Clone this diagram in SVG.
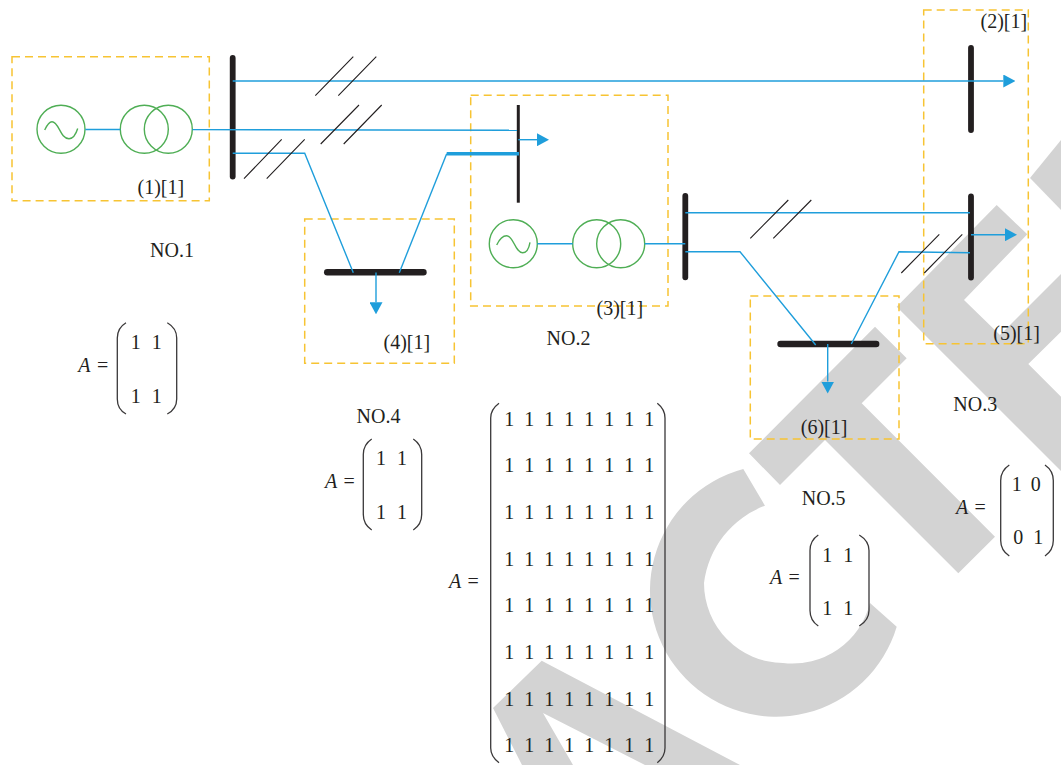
<svg xmlns="http://www.w3.org/2000/svg" width="1061" height="765" viewBox="0 0 1061 765">
<style>
text{font-family:"Liberation Serif","Times New Roman",serif;font-size:20px;fill:#231f20}
.wm{fill:#d3d3d3}
.box{fill:none;stroke:#f7c433;stroke-width:1.5;stroke-dasharray:8 5}
.eq{fill:none;stroke:#4fae55;stroke-width:1.4}
.bus{stroke:#231f20;stroke-width:5.8;stroke-linecap:round;fill:none}
.ln{fill:none;stroke:#1f9edb;stroke-width:1.4}
.ar{fill:none;stroke:#1f9edb;stroke-width:1.4;marker-end:url(#tri)}
.sl{stroke:#231f20;stroke-width:1.1;fill:none}
.par{fill:none;stroke:#3a3839;stroke-width:1.3}
.m2{word-spacing:6px}
.m8{word-spacing:5px}
.i{font-style:italic}
</style>
<defs>
<marker id="tri" markerUnits="userSpaceOnUse" markerWidth="12" markerHeight="13" viewBox="0 0 12 13" refX="0" refY="6.5" orient="auto"><path d="M0,0L12,6.5L0,13Z" fill="#1f9edb"/></marker>
</defs>
<g id="watermark">
<path class="wm" d="M541.7,660.7L493,708L522,765H573L543,713L645,765H740Z"/>
<path class="wm" d="M743.3,469A126,126 0 1 0 896.7,626.7L870,603A80,80 0 0 1 783,663A80,80 0 0 1 704,583A95,95 0 0 1 765,505.7Z"/>
<path class="wm" d="M875,326.7L906.7,358.3L861.7,403.3L995,536.7L958.3,573.3L825,440L780,485L749,453.3Z"/>
<path class="wm" d="M996.7,205L1027.3,234.3L964,300L1000,335L1061,274V331.7L1028.3,364L1061,396.7V471L896.7,306.7Z"/>
<path class="wm" d="M1030,178L1061,140V210Z"/>
</g>
<g id="node-1">
<rect class="box" x="12" y="56.7" width="197.3" height="144"/>
<circle class="eq" cx="61" cy="129.3" r="24"/>
<path class="eq" d="M44.7,130C47,125 49,121.7 52,121.7C59,121.7 60,138.7 69,138.7C73,138.7 76,134 77.7,128.5"/>
<circle class="eq" cx="144.3" cy="129.3" r="24"/>
<circle class="eq" cx="168.3" cy="129.3" r="24"/>
<line class="bus" x1="232.7" y1="58" x2="232.7" y2="176.5"/>
<text x="137.5" y="193.7">(1)[1]</text>
<text x="150" y="256.5">NO.1</text>
<text class="i" x="78.3" y="372">A</text><text x="97" y="372">=</text>
<path class="par" d="M126,322.7C120.5,326 117.3,331 117.3,338V399C117.3,406 120.5,411 126,414"/>
<path class="par" d="M167.3,322.7C173,326 176.7,331 176.7,338V399C176.7,406 173,411 167.3,414"/>
<text class="m2" x="130.7" y="349.3">1 1</text>
<text class="m2" x="130.7" y="403.3">1 1</text>
</g>
<g id="node-2">
<rect class="box" x="923.7" y="10" width="104.6" height="333.7"/>
<line class="bus" x1="971" y1="48" x2="971" y2="130"/>
<text x="980.5" y="28">(2)[1]</text>
</g>
<g id="node-3">
<rect class="box" x="470.7" y="95.3" width="197.3" height="210.7"/>
<line x1="518.3" y1="105" x2="518.3" y2="202.7" stroke="#231f20" stroke-width="3"/>
<circle class="eq" cx="513.3" cy="243.7" r="24"/>
<path class="eq" d="M496.7,245C499,240 502.5,235.7 506.7,235.7C513.5,235.7 515,252.7 522.7,252.7C526.5,252.7 529,248 530,242.3"/>
<circle class="eq" cx="596.7" cy="243.7" r="24"/>
<circle class="eq" cx="620.7" cy="243.7" r="24"/>
<line class="bus" x1="685.3" y1="196" x2="685.3" y2="277.3"/>
<text x="596.5" y="314.5">(3)[1]</text>
<text x="546.5" y="345">NO.2</text>
<text class="i" x="449" y="588.3">A</text><text x="467.5" y="588.3">=</text>
<path class="par" d="M499,403.3C494,407 490.7,411 490.7,418V748C490.7,755 494,759 499,762.7"/>
<path class="par" d="M657.3,403.3C662,407 665,411 665,418V748C665,755 662,759 657.3,762.7"/>
<text class="m8" x="504.3" y="425.7">1 1 1 1 1 1 1 1</text>
<text class="m8" x="504.3" y="472.3">1 1 1 1 1 1 1 1</text>
<text class="m8" x="504.3" y="519">1 1 1 1 1 1 1 1</text>
<text class="m8" x="504.3" y="565.7">1 1 1 1 1 1 1 1</text>
<text class="m8" x="504.3" y="612.3">1 1 1 1 1 1 1 1</text>
<text class="m8" x="504.3" y="659">1 1 1 1 1 1 1 1</text>
<text class="m8" x="504.3" y="705.7">1 1 1 1 1 1 1 1</text>
<text class="m8" x="504.3" y="752.3">1 1 1 1 1 1 1 1</text>
</g>
<g id="node-4">
<rect class="box" x="304.7" y="219" width="149.6" height="144.3"/>
<line x1="327.2" y1="272.3" x2="423.5" y2="272.3" stroke="#231f20" stroke-width="6.4" stroke-linecap="round"/>
<text x="383.5" y="348.5">(4)[1]</text>
<text x="356.5" y="423.3">NO.4</text>
<text class="i" x="325" y="487.7">A</text><text x="343.5" y="487.7">=</text>
<path class="par" d="M371.7,439C366.5,442.5 363.3,447.5 363.3,454.5V514.5C363.3,521.5 366.5,526.5 371.7,530"/>
<path class="par" d="M413.3,439C418.5,442.5 421.7,447.5 421.7,454.5V514.5C421.7,521.5 418.5,526.5 413.3,530"/>
<text class="m2" x="376" y="465">1 1</text>
<text class="m2" x="376" y="519">1 1</text>
</g>
<g id="node-5">
<line class="bus" x1="971" y1="196.5" x2="971" y2="277.5"/>
<text x="993.3" y="339.5">(5)[1]</text>
<text x="953.3" y="411">NO.3</text>
<text class="i" x="956" y="514">A</text><text x="974.5" y="514">=</text>
<path class="par" d="M1009.3,465C1004,468.5 1000.7,473.5 1000.7,480.5V540.5C1000.7,547.5 1004,552.5 1009.3,556"/>
<path class="par" d="M1045,465C1050,468.5 1053.3,473.5 1053.3,480.5V540.5C1053.3,547.5 1050,552.5 1045,556"/>
<text x="1011.7" y="491">1</text><text x="1030.7" y="491">0</text>
<text x="1013.3" y="544.3">0</text><text x="1033.3" y="544.3">1</text>
</g>
<g id="node-6">
<rect class="box" x="750.3" y="296" width="148.7" height="143"/>
<line x1="780.5" y1="344" x2="876.2" y2="344" stroke="#231f20" stroke-width="6.4" stroke-linecap="round"/>
<text x="800.8" y="434">(6)[1]</text>
<text x="801.7" y="505">NO.5</text>
<text class="i" x="770" y="584">A</text><text x="788.5" y="584">=</text>
<path class="par" d="M818.3,535C813,538.5 810,543.5 810,550.5V610.5C810,617.5 813,622.5 818.3,626"/>
<path class="par" d="M859.3,535C865,538.5 869,543.5 869,550.5V610.5C869,617.5 865,622.5 859.3,626"/>
<text class="m2" x="822.3" y="561.7">1 1</text>
<text class="m2" x="822.3" y="615">1 1</text>
</g>
<g id="connectors">
<line class="ln" x1="85.3" y1="129.5" x2="120.3" y2="129.5"/>
<line class="ln" x1="192.3" y1="129.6" x2="517" y2="130.2"/>
<line class="ar" x1="232.7" y1="81" x2="1003.3" y2="81"/>
<path class="ln" d="M232.7,153.3H304.7L353.3,272.7"/>
<path class="ln" d="M399.3,272.7L446.7,153.7"/>
<line x1="446.7" y1="153.7" x2="519" y2="153.7" stroke="#1f9edb" stroke-width="3.6"/>
<line class="ar" x1="518.3" y1="139.7" x2="537" y2="139.7"/>
<line class="ar" x1="376" y1="272.5" x2="376" y2="302.3"/>
<line class="ln" x1="537.3" y1="243.7" x2="572.7" y2="243.7"/>
<line class="ln" x1="644.7" y1="243.7" x2="685.3" y2="243.7"/>
<line class="ln" x1="685.3" y1="212.7" x2="970" y2="212.7"/>
<path class="ln" d="M685.3,251.7H740L815.7,345"/>
<path class="ln" d="M851.3,344L899,251.7L970,252.7"/>
<line class="ar" x1="971" y1="234.7" x2="1005" y2="234.7"/>
<line class="ar" x1="827.7" y1="344" x2="827.7" y2="381.5"/>
<path class="sl" d="M244,178.7L281.7,139.3M266.7,178.7L304.7,139.3"/>
<path class="sl" d="M315.3,95.7L353.3,56.7M338.3,95.7L376.3,56.7"/>
<path class="sl" d="M320.7,144L359,105M343.7,144L381.7,105"/>
<path class="sl" d="M750.3,238.3L788.3,200M773.3,238.3L811.3,200"/>
<path class="sl" d="M901.3,273L939.3,234.3M924.3,273L962.3,234.3"/>
</g>
</svg>
